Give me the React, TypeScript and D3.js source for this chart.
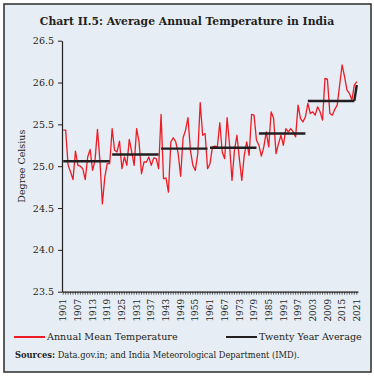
import React, { useEffect, useRef } from 'react';
import * as d3 from 'd3';

// Years 1901-2021 on the category axis
const years: number[] = d3.range(1901, 2022);

// Annual mean temperature (°C)
const annualMean: number[] = [
  25.43, 25.43, 25.01, 24.93, 24.84, 25.18, 25.01, 25.0, 24.97, 24.84,
  25.11, 25.2, 24.95, 25.07, 25.44, 25.07, 24.55, 24.87, 25.03, 25.03,
  25.45, 25.19, 25.17, 25.3, 24.97, 25.11, 25.01, 25.32, 25.17, 25.01,
  25.45, 25.29, 24.91, 25.05, 25.05, 25.11, 25.01, 25.1, 25.09, 24.97,
  25.62, 24.85, 24.86, 24.69, 25.29, 25.34, 25.29, 25.15, 24.88, 25.34,
  25.43, 25.58, 25.19, 25.01, 24.95, 25.15, 25.76, 25.37, 25.39, 24.97,
  25.03, 25.23, 25.24, 25.23, 25.52, 25.17, 25.09, 25.58, 25.25, 24.83,
  25.19, 25.37, 25.09, 24.83, 25.13, 25.29, 25.13, 25.62, 25.61, 25.31,
  25.25, 25.12, 25.23, 25.41, 25.23, 25.65, 25.57, 25.15, 25.27, 25.37,
  25.25, 25.45, 25.41, 25.45, 25.41, 25.35, 25.73, 25.57, 25.53, 25.59,
  25.75, 25.63, 25.65, 25.61, 25.71, 25.65, 25.55, 26.05, 26.04, 25.63,
  25.61, 25.68, 25.73, 25.97, 26.21, 26.07, 25.91, 25.87, 25.79, 25.97,
  26.01,
];

// Twenty year averages (last piece joins 2020 to the 2021 value)
const periodStart: number[] = [1901, 1921, 1941, 1961, 1981, 2001, 2020];
const periodEnd: number[] = [1920, 1940, 1960, 1980, 2000, 2020, 2021];
const periodAvgFrom: number[] = [25.06, 25.14, 25.21, 25.22, 25.39, 25.78, 25.78];
const periodAvgTo: number[] = [25.06, 25.14, 25.21, 25.22, 25.39, 25.78, 25.97];

const yTicks: number[] = [23.5, 24.0, 24.5, 25.0, 25.5, 26.0, 26.5];
const labelEvery = 6;

const SERIF = '"DejaVu Serif", serif';

const App: React.FC = () => {
  const svgRef = useRef<SVGSVGElement>(null);
  const width = 374;
  const height = 377;

  useEffect(() => {
    if (!svgRef.current) return;
    const svg = d3.select(svgRef.current);
    svg.selectAll('*').remove();

    // background + frame
    svg.append('rect').attr('width', width).attr('height', height).attr('fill', '#fff');
    svg.append('rect')
      .attr('x', 4).attr('y', 4)
      .attr('width', 367).attr('height', 368)
      .attr('fill', '#e7edf4')
      .attr('stroke', '#2b2b2b')
      .attr('stroke-width', 1.5);

    svg.append('text')
      .attr('x', 187).attr('y', 25)
      .attr('text-anchor', 'middle')
      .style('font-family', SERIF)
      .style('font-size', '10.8px')
      .style('font-weight', 'bold')
      .style('fill', '#231f20')
      .text('Chart II.5: Average Annual Temperature in India');

    const plot = { left: 62, right: 358, top: 40.7, bottom: 291.7 };

    const x = d3.scaleBand<number>()
      .domain(years)
      .range([plot.left, plot.right])
      .padding(0);
    const xc = (yr: number) => (x(yr) || 0) + x.bandwidth() / 2;

    const y = d3.scaleLinear()
      .domain([23.5, 26.5])
      .range([plot.bottom, plot.top]);

    // y axis
    const yAxis = svg.append('g')
      .attr('transform', `translate(${plot.left},0)`)
      .call(d3.axisLeft(y).tickValues(yTicks).tickFormat(d3.format('.1f')).tickSize(4).tickSizeOuter(0));
    yAxis.select('.domain').attr('stroke', '#231f20').attr('stroke-width', 1.2);
    yAxis.selectAll('line').attr('stroke', '#231f20');
    yAxis.selectAll('text')
      .style('font-family', SERIF)
      .style('font-size', '9.5px')
      .style('fill', '#231f20')
      .attr('x', -8);

    // x axis
    const xAxis = svg.append('g')
      .attr('transform', `translate(0,${plot.bottom})`)
      .call(
        d3.axisBottom(x)
          .tickSize(3)
          .tickSizeOuter(0)
          .tickFormat((d) => ((+d - 1901) % labelEvery === 0 ? String(d) : ''))
      );
    xAxis.select('.domain').attr('stroke', '#231f20').attr('stroke-width', 1.2);
    xAxis.selectAll('line').attr('stroke', '#231f20').attr('stroke-width', 0.7);
    xAxis.selectAll('text')
      .attr('transform', 'rotate(-90)')
      .attr('text-anchor', 'end')
      .attr('x', -7)
      .attr('y', 0)
      .attr('dy', '0.35em')
      .style('font-family', SERIF)
      .style('font-size', '9px')
      .style('fill', '#231f20');

    // axis title
    svg.append('text')
      .attr('transform', `translate(22,${(plot.top + plot.bottom) / 2}) rotate(-90)`)
      .attr('text-anchor', 'middle')
      .attr('dy', '0.35em')
      .style('font-family', SERIF)
      .style('font-size', '9.5px')
      .style('fill', '#231f20')
      .text('Degree Celsius');

    // annual mean line
    const line = d3.line<number>()
      .x((_, i) => xc(years[i]))
      .y((d) => y(d));
    svg.append('path')
      .datum(annualMean)
      .attr('d', line)
      .attr('fill', 'none')
      .attr('stroke', '#ed1c24')
      .attr('stroke-width', 1.3)
      .attr('stroke-linejoin', 'round');

    // twenty year average segments
    periodStart.forEach((s, k) => {
      svg.append('line')
        .attr('x1', xc(s))
        .attr('x2', xc(periodEnd[k]))
        .attr('y1', y(periodAvgFrom[k]))
        .attr('y2', y(periodAvgTo[k]))
        .attr('stroke', '#231f20')
        .attr('stroke-width', 2.4);
    });

    // legend
    const legendY = 337;
    const legend = [
      { label: 'Annual Mean Temperature', color: '#ed1c24', x: 14 },
      { label: 'Twenty Year Average', color: '#231f20', x: 226 },
    ];
    legend.forEach((l) => {
      svg.append('line')
        .attr('x1', l.x).attr('x2', l.x + 31)
        .attr('y1', legendY).attr('y2', legendY)
        .attr('stroke', l.color)
        .attr('stroke-width', 2);
      svg.append('text')
        .attr('x', l.x + 33).attr('y', legendY)
        .attr('dy', '0.35em')
        .style('font-family', SERIF)
        .style('font-size', '9.6px')
        .style('fill', '#231f20')
        .text(l.label);
    });

    // sources
    const src = svg.append('text')
      .attr('x', 15).attr('y', 358)
      .style('font-family', SERIF)
      .style('font-size', '8.3px')
      .style('fill', '#231f20');
    src.append('tspan').style('font-weight', 'bold').text('Sources:');
    src.append('tspan').text(' Data.gov.in; and India Meteorological Department (IMD).');
  }, []);

  return (
    <svg
      ref={svgRef}
      width={width}
      height={height}
      style={{ position: 'absolute', left: 0, top: 0, display: 'block' }}
    />
  );
};

export default App;
